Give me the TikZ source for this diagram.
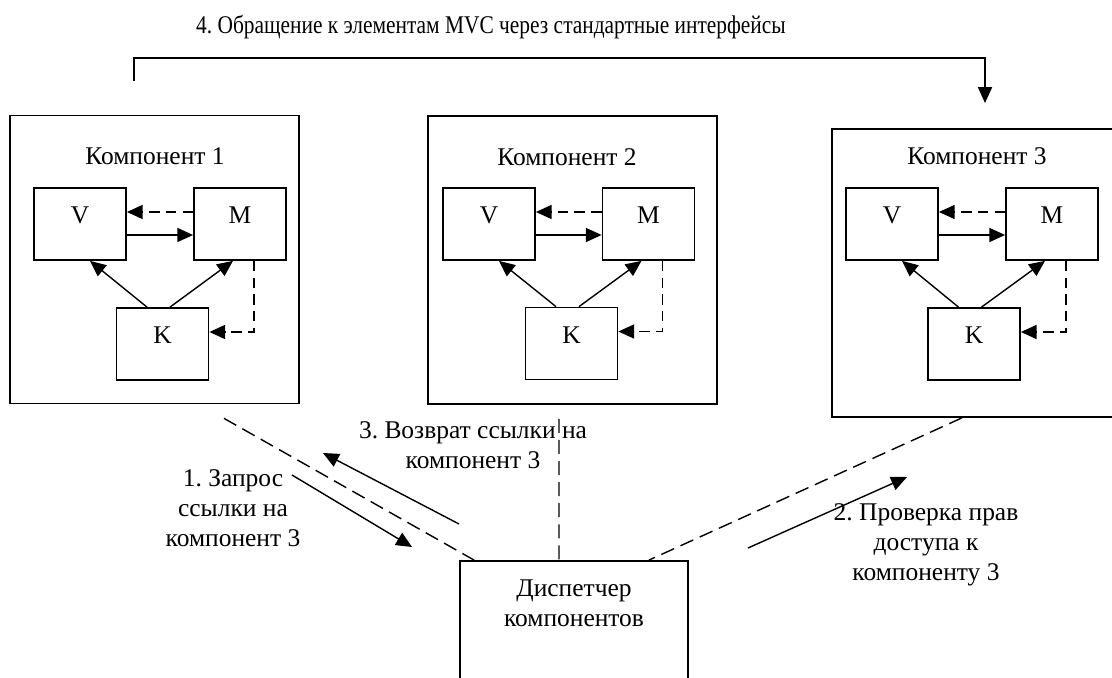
\documentclass[tikz,border=0pt]{standalone}
\usepackage{fontspec}
\setmainfont{Liberation Serif}
\usepackage{tikz}
\usetikzlibrary{arrows.meta, positioning, calc}
\frenchspacing

\begin{document}
\begin{tikzpicture}[
        x=0.02cm, y=-0.02cm,
        font=\fontsize{14.5}{17}\selectfont,
        comp/.style={rectangle, draw, line width=1pt, minimum width=5.78cm, minimum height=5.76cm},
        part/.style={rectangle, draw, line width=1pt, minimum width=1.84cm, minimum height=1.44cm, text height=0.7em, text depth=0.7em},
        arrow/.style={-{Triangle[length=9pt, width=8pt]}, line width=0.8pt},
        dasharrow/.style={arrow, dash pattern=on 6pt off 3.5pt},
        link/.style={line width=0.8pt, dash pattern=on 8pt off 4pt},
        txt/.style={align=center, inner sep=0pt}
    ]
        \clip (0,0) rectangle (1112,678);

        % Components
        \node[comp] (comp1) at (154.5,259.5) {};
        \node[txt] (title1) at (155,156) {Компонент 1};
        \node[part] (v1) at (80,224) {V};
        \node[part] (m1) at (240,224) {M};
        \node[part] (k1) at (162.5,344) {K};

        \node[comp] (comp2) at (572.5,260) {};
        \node[txt] (title2) at (567,157) {Компонент 2};
        \node[part] (v2) at (489,224) {V};
        \node[part] (m2) at (648.5,224) {M};
        \node[part] (k2) at (571.5,343.5) {K};

        \node[comp] (comp3) at (976.5,273) {};
        \node[txt] (title3) at (977,156) {Компонент 3};
        \node[part] (v3) at (892,224) {V};
        \node[part] (m3) at (1052,224) {M};
        \node[part] (k3) at (974,344) {K};

        % Dispatcher
        \node[rectangle, draw, line width=1pt, minimum width=4.56cm, minimum height=3cm] (disp) at (574,636) {};
        \node[txt] (disptext) at (574,603) {Диспетчер\\компонентов};

        % Arrows inside components
        \foreach \i in {1,2,3} {
            \draw[dasharrow] ([yshift=0.24cm]m\i.west) -- ([yshift=0.24cm]v\i.east);
            \draw[arrow] ([yshift=-0.22cm]v\i.east) -- ([yshift=-0.22cm]m\i.west);
            \draw[arrow] ([xshift=-0.31cm]k\i.north) -- ([xshift=0.2cm]v\i.south);
            \draw[arrow] ([xshift=0.15cm]k\i.north) -- ([xshift=-0.14cm]m\i.south);
            \draw[dasharrow] ([xshift=0.28cm]m\i.south) |- ([yshift=0.24cm]k\i.east);
        }

        % Links to the dispatcher
        \draw[link] ([xshift=1.39cm, yshift=-0.28cm]comp1.south) -- ([xshift=0.3cm]disp.north west);
        \draw[link] ([xshift=-0.27cm, yshift=-0.28cm]comp2.south) -- ([xshift=-0.3cm]disp.north);
        \draw[link] ([xshift=-0.29cm]comp3.south) -- ([xshift=-0.8cm]disp.north east);

        % Messages
        \coordinate (req1) at (292,475);
        \coordinate (req2) at (412,547);
        \coordinate (ret1) at (459,524);
        \coordinate (ret2) at (323,453);
        \coordinate (chk1) at (748,548);
        \coordinate (chk2) at (907,477);
        \draw[arrow] (req1) -- (req2);
        \draw[arrow] (ret1) -- (ret2);
        \draw[arrow] (chk1) -- (chk2);

        \node[txt] (reqtext) at (233,508) {1. Запрос\\ссылки на\\компонент 3};
        \node[txt] (rettext) at (473,445) {3. Возврат ссылки на\\компонент 3};
        \node[txt] (chktext) at (926,545) {2. Проверка прав\\доступа к\\компоненту 3};

        % Access through standard interfaces
        \coordinate (top1) at (134,81);
        \coordinate (top3) at (985,103);
        \draw[arrow] (top1) -- ++(0,-23) -| (top3);
        \node[txt] (toptext) at (491,27) {\scalebox{0.84}[1]{4. Обращение к элементам MVC через стандартные интерфейсы}};
    \end{tikzpicture}
\end{document}
